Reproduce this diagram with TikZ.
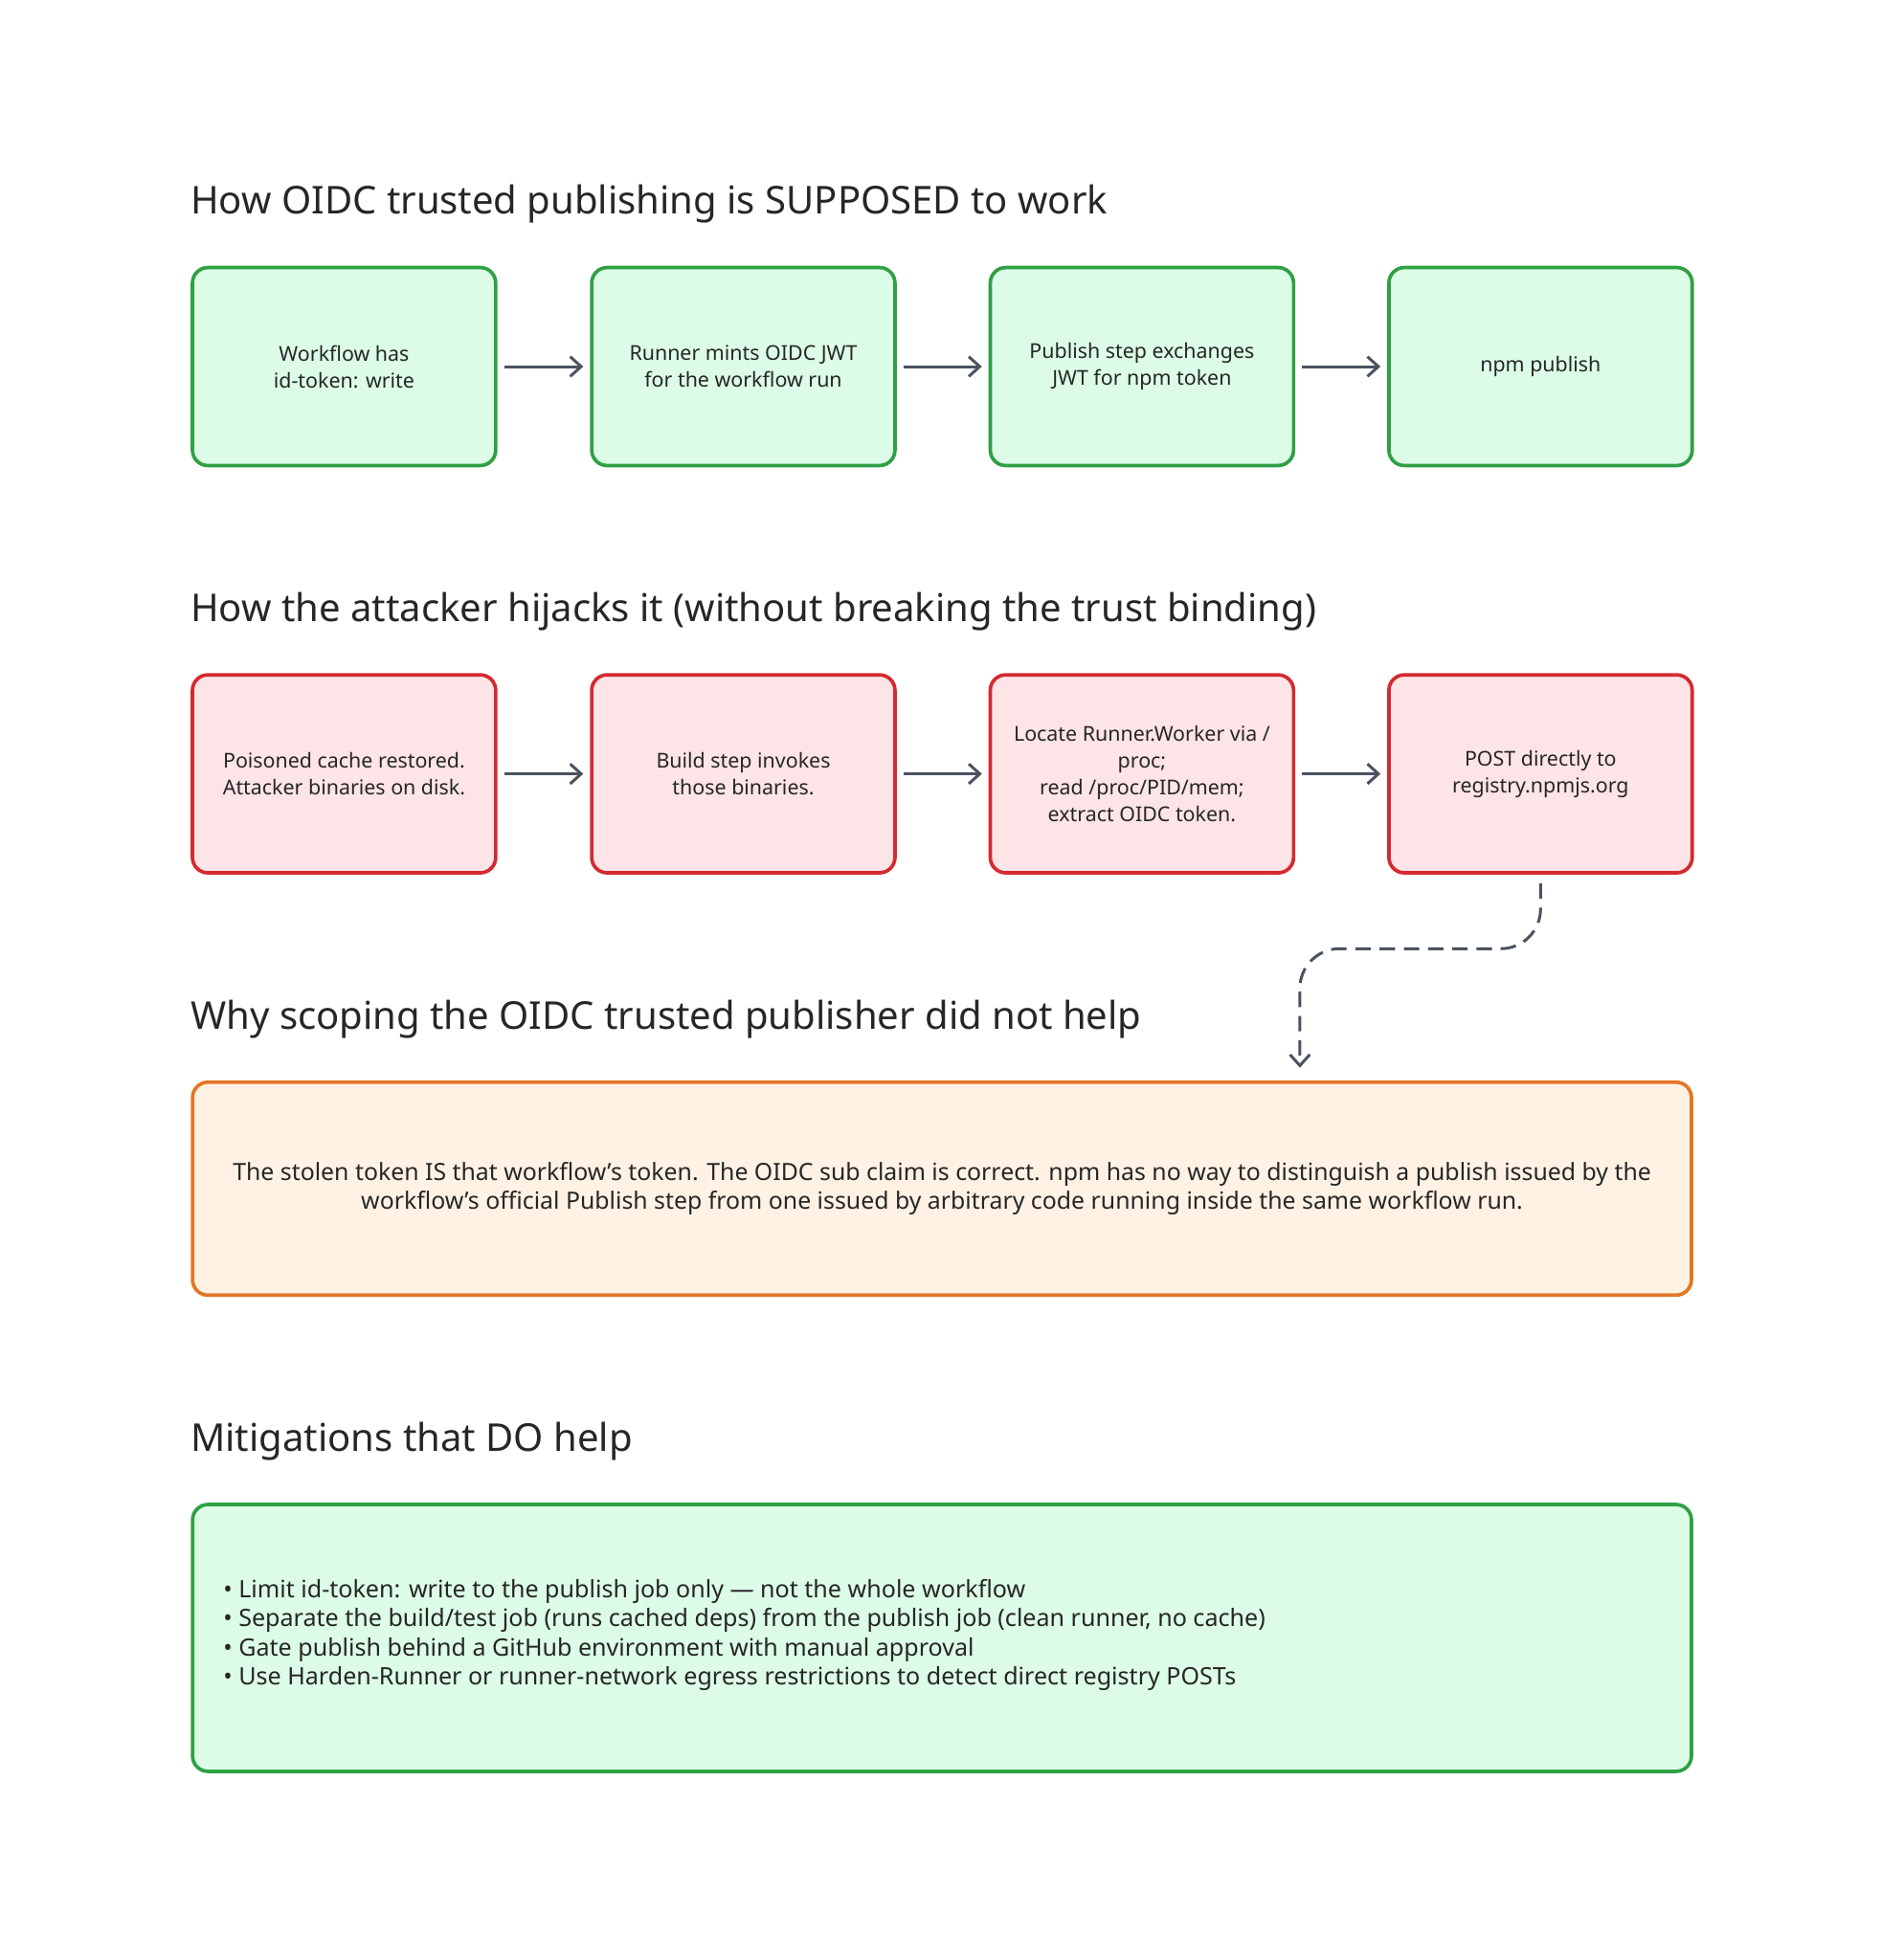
\documentclass[tikz,border=0pt]{standalone}
\usepackage{fontspec}
\setmainfont{Noto Sans}
\usetikzlibrary{positioning, arrows.meta}
\definecolor{okfill}{HTML}{DCFCE7}
\definecolor{okline}{HTML}{2FA044}
\definecolor{badfill}{HTML}{FDE4E6}
\definecolor{badline}{HTML}{D42A30}
\definecolor{warnfill}{HTML}{FFF2E4}
\definecolor{warnline}{HTML}{E37726}
\definecolor{arr}{HTML}{4B5260}
\tikzstyle{ok} = [rectangle, draw=okline, fill=okfill, line width=1.6pt, rounded corners=7pt, minimum width=4.84cm, minimum height=3.16cm, align=center, font=\fontsize{9.3}{12.2}\selectfont, text=black!85]
\tikzstyle{bad} = [ok, draw=badline, fill=badfill]
\tikzstyle{ttl} = [anchor=west, font=\fontsize{17.4}{21}\selectfont, text=black!85]
\tikzstyle{flow} = [-{Straight Barb[length=5pt,width=9pt]}, draw=arr, line width=1.3pt]

\begin{document}
\begin{tikzpicture}[x=0.02cm, y=-0.02cm]
    \useasboundingbox (0,0) rectangle (1500,1564);

    \node[ttl] (t1) at (146,163) {How OIDC trusted publishing is SUPPOSED to work};
    \node[ok] (a1) at (274.5,292.5) {Workflow has\\id-token: write};
    \node[ok] (a2) at (593,292.5) {Runner mints OIDC JWT\\for the workflow run};
    \node[ok] (a3) at (911,292.5) {Publish step exchanges\\JWT for npm token};
    \node[ok] (a4) at (1229,292.5) {npm publish};

    \node[ttl] (t2) at (146,488) {How the attacker hijacks it (without breaking the trust binding)};
    \node[bad] (b1) at (274.5,617.5) {Poisoned cache restored.\\Attacker binaries on disk.};
    \node[bad] (b2) at (593,617.5) {Build step invokes\\those binaries.};
    \node[bad] (b3) at (911,617.5) {Locate Runner.Worker via /\\proc;\\read /proc/PID/mem;\\extract OIDC token.};
    \node[bad] (b4) at (1229,617.5) {POST directly to\\registry.npmjs.org};

    \node[ttl] (t3) at (146,813) {Why scoping the OIDC trusted publisher did not help};
    \node[ok, draw=warnline, fill=warnfill, minimum width=23.92cm, minimum height=3.4cm, font=\fontsize{10.8}{13.2}\selectfont] (c1) at (751.5,948.5)
        {The stolen token IS that workflow's token. The OIDC sub claim is correct. npm has no way to distinguish a publish issued by the\\workflow's official Publish step from one issued by arbitrary code running inside the same workflow run.};

    \node[ttl] (t4) at (146,1150) {Mitigations that DO help};
    \node[ok, minimum width=23.92cm, minimum height=4.26cm] (m1) at (751.5,1307) {};
    \node[anchor=north west, align=left, font=\fontsize{10.9}{13.2}\selectfont, text=black!85] (m1txt) at (172,1254)
        {\textbullet\ Limit id-token: write to the publish job only — not the whole workflow\\
         \textbullet\ Separate the build/test job (runs cached deps) from the publish job (clean runner, no cache)\\
         \textbullet\ Gate publish behind a GitHub environment with manual approval\\
         \textbullet\ Use Harden-Runner or runner-network egress restrictions to detect direct registry POSTs};

    \coordinate (drop) at (1037,852);

    % arrows between steps
    \foreach \p/\q in {a1/a2, a2/a3, a3/a4, b1/b2, b2/b3, b3/b4}
        \draw[flow] ([xshift=3pt]\p.east) -- ([xshift=-3pt]\q.west);
    \draw[flow, dashed, dash pattern=on 7pt off 4pt, rounded corners=18pt]
        ([yshift=-4pt]b4.south) -- (b4.south |- 0,757) -- (1037,757) -- (drop);
\end{tikzpicture}
\end{document}
